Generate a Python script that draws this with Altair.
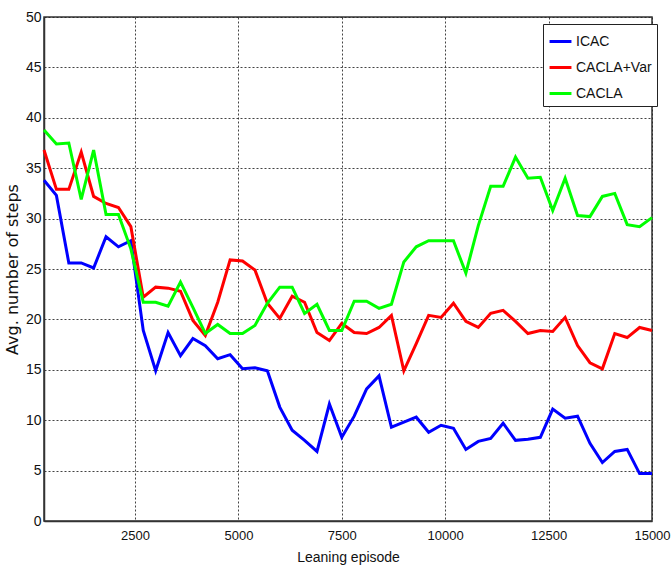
import altair as alt
import pandas as pd

episodes = [300 * i for i in range(1, 51)]

icac = [33.8, 32.3, 25.6, 25.6, 25.1, 28.2, 27.2, 27.8, 18.9, 14.9,
        18.7, 16.4, 18.1, 17.4, 16.1, 16.5, 15.1, 15.2, 14.9, 11.3,
        9.0, 8.0, 6.9, 11.6, 8.3, 10.4, 13.1, 14.4, 9.3, 9.8,
        10.3, 8.8, 9.5, 9.2, 7.1, 7.9, 8.2, 9.7, 8.0, 8.1,
        8.3, 11.1, 10.2, 10.4, 7.7, 5.8, 6.9, 7.1, 4.7, 4.7]

cacla_var = [36.8, 32.9, 32.9, 36.6, 32.2, 31.5, 31.1, 29.2, 22.2, 23.2,
             23.1, 22.8, 19.9, 18.4, 21.7, 25.9, 25.8, 24.9, 21.6, 20.1,
             22.3, 21.7, 18.7, 17.9, 19.6, 18.7, 18.6, 19.2, 20.4, 14.9,
             17.6, 20.4, 20.2, 21.6, 19.8, 19.2, 20.6, 20.9, 19.8, 18.6,
             18.9, 18.8, 20.2, 17.4, 15.7, 15.1, 18.6, 18.2, 19.2, 18.9]

cacla = [38.8, 37.4, 37.5, 31.9, 36.8, 30.4, 30.4, 27.0, 21.7, 21.7,
         21.3, 23.7, 21.2, 18.6, 19.5, 18.6, 18.6, 19.4, 21.6, 23.2,
         23.2, 20.6, 21.5, 18.9, 18.9, 21.8, 21.8, 21.1, 21.5, 25.7,
         27.2, 27.8, 27.8, 27.8, 24.6, 29.3, 33.2, 33.2, 36.1, 34.0,
         34.1, 30.8, 34.0, 30.3, 30.2, 32.2, 32.5, 29.4, 29.2, 30.1]

methods = ["ICAC", "CACLA+Var", "CACLA"]
colors = ["#0000FF", "#FF0000", "#00FF00"]
x_ticks = [2500, 5000, 7500, 10000, 12500, 15000]
y_ticks = [0, 5, 10, 15, 20, 25, 30, 35, 40, 45, 50]

rows = []
for name, series in zip(methods, [icac, cacla_var, cacla]):
    for ep, v in zip(episodes, series):
        rows.append({"episode": ep, "method": name, "value": v, "order": methods.index(name)})
df = pd.DataFrame(rows)

FONT = "Liberation Sans"

chart = alt.Chart(df).mark_line(strokeWidth=3).encode(
    x=alt.X("episode:Q",
            scale=alt.Scale(domain=[300, 15000], nice=False, zero=False),
            axis=alt.Axis(values=x_ticks, format="d", title="Leaning episode",
                          labelFontSize=13, titleFontSize=14, labelPadding=8,
                          titlePadding=8, tickSize=0, labelFlush=False,
                          titleFontWeight="normal", labelFont=FONT, titleFont=FONT,
                          labelColor="#111", titleColor="#111",
                          grid=True, gridColor="#222", gridDash=[2, 2],
                          gridOpacity=0.85, gridWidth=1,
                          domainColor="#333", domainWidth=1.5)),
    y=alt.Y("value:Q",
            scale=alt.Scale(domain=[0, 50], nice=False),
            axis=alt.Axis(values=y_ticks, format="d", title="Avg. number of steps",
                          labelFontSize=14, titleFontSize=16, labelPadding=3,
                          titlePadding=5, tickSize=0,
                          titleFontWeight="normal", labelFont=FONT,
                          titleFont="DejaVu Sans",
                          labelColor="#111", titleColor="#111",
                          grid=True, gridColor="#222", gridDash=[2, 2],
                          gridOpacity=0.85, gridWidth=1,
                          domainColor="#333", domainWidth=1.5)),
    color=alt.Color("method:N",
                    scale=alt.Scale(domain=methods, range=colors),
                    legend=alt.Legend(title=None, orient="none", legendX=499, legendY=7,
                                      symbolType="stroke", symbolStrokeWidth=3,
                                      symbolSize=480, labelFontSize=14,
                                      labelFont=FONT, labelColor="#111", rowPadding=6,
                                      fillColor="white", strokeColor="#222",
                                      padding=5, labelLimit=200, labelOffset=3)),
    order="order:Q",
).properties(
    width=608, height=504,
    padding={"left": 44, "top": 17, "right": 19, "bottom": 50},
    autosize=alt.AutoSizeParams(type="none"),
    background="white",
).configure_view(
    stroke="#333", strokeWidth=1.5,
)

chart.save("out.html", embed_options={"renderer": "svg", "actions": False})
